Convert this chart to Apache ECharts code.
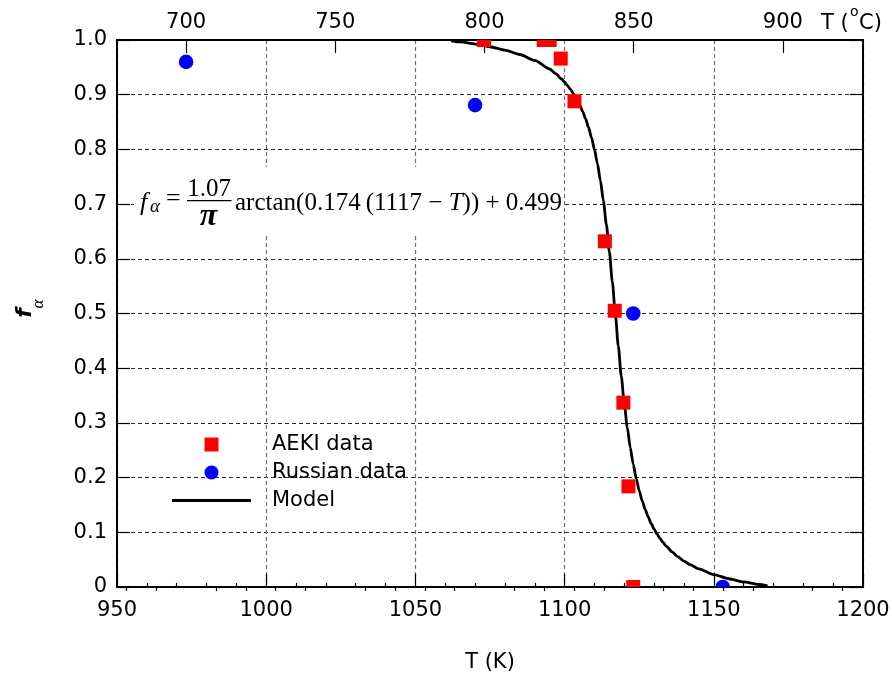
<!DOCTYPE html>
<html>
<head>
<meta charset="utf-8">
<title>Alpha phase fraction vs temperature</title>
<script src="https://cdn.jsdelivr.net/npm/echarts@6/dist/echarts.min.js"></script>
<style>
  html, body { margin: 0; padding: 0; background: #ffffff; }
  #chart { width: 892px; height: 677px; }
</style>
</head>
<body>
<div id="chart"></div>
<script>
// AEKI measurements: temperature (K) and alpha fraction
const aekiT = [1073, 1093, 1095, 1098.7, 1103.3, 1113.5, 1116.8, 1119.7, 1121.4, 1123.0];
const aekiF = [1.0, 1.0, 1.0, 0.966, 0.888, 0.632, 0.505, 0.337, 0.184, 0.0];

// Russian measurements
const russianT = [973.15, 1070, 1123, 1153];
const russianF = [0.96, 0.881, 0.50, 0.0];

// Model curve, tabulated
const modelT = [1062, 1065, 1070, 1075, 1080, 1085, 1090, 1095, 1097, 1099, 1100, 1101,
                1102, 1103, 1104, 1105, 1106, 1107, 1108, 1109, 1110, 1111, 1112, 1113,
                1114, 1115, 1116, 1117, 1118, 1119, 1120, 1121, 1122, 1123, 1124, 1125,
                1126, 1127, 1128, 1129, 1130, 1131, 1132, 1133, 1134, 1136, 1138, 1140,
                1142, 1145, 1150, 1155, 1160, 1165, 1168];
const modelF = [0.9986, 0.9965, 0.9926, 0.9877, 0.9815, 0.9735, 0.9626, 0.9470, 0.9387, 0.9287, 0.9230, 0.9165,
                0.9095, 0.9013, 0.8923, 0.8818, 0.8700, 0.8562, 0.8405, 0.8219, 0.7998, 0.7738, 0.7429, 0.7060,
                0.6628, 0.6130, 0.5577, 0.4990, 0.4403, 0.3850, 0.3352, 0.2920, 0.2551, 0.2242, 0.1982, 0.1762,
                0.1575, 0.1418, 0.1280, 0.1162, 0.1057, 0.0967, 0.0886, 0.0815, 0.0750, 0.0641, 0.0550, 0.0474,
                0.0410, 0.0330, 0.0227, 0.0151, 0.0093, 0.0046, 0.0022];

// Axis ranges and tick values
const kelvinRange = [950, 1200];
const celsiusMajor = [700, 750, 800, 850, 900];
const celsiusMinor = [680, 690, 710, 720, 730, 740, 760, 770, 780, 790, 810, 820, 830, 840, 860, 870, 880, 890, 910, 920];
const K0 = 273.15;

const zip = (xs, ys) => xs.map((x, i) => [x, ys[i]]);

const SANS = 'DejaVu Sans';
const SERIF = 'Liberation Serif';
const BLACK = '#000000';
const LABEL_SIZE = 21;

const chart = echarts.init(document.getElementById('chart'), null, { renderer: 'canvas' });

function squareMark(params, api) {
  const p = api.coord([api.value(0), api.value(1)]);
  return {
    type: 'rect',
    shape: { x: p[0] - 7, y: p[1] - 7, width: 14, height: 14 },
    style: { fill: '#ff0000' }
  };
}

function dotMark(params, api) {
  const p = api.coord([api.value(0), api.value(1)]);
  return {
    type: 'circle',
    shape: { cx: p[0], cy: p[1], r: 7.3 },
    style: { fill: '#0000ff' }
  };
}

const frameLine = { show: true, onZero: false, lineStyle: { color: BLACK, width: 2 } };
const majorTick = { show: true, inside: true, length: 13, lineStyle: { color: BLACK, width: 1.2 } };

const option = {
  animation: false,
  backgroundColor: '#ffffff',
  grid: { left: 117, right: 29, top: 40, bottom: 90, containLabel: false, outerBoundsMode: 'none' },
  legend: {
    orient: 'vertical',
    left: 172,
    top: 434,
    padding: 0,
    itemWidth: 79,
    itemHeight: 14,
    itemGap: 7,
    symbolKeepAspect: true,
    itemStyle: { borderWidth: 0 },
    textStyle: { fontFamily: SANS, fontSize: LABEL_SIZE, color: BLACK, lineHeight: 20, padding: [0, 0, 0, 16] },
    data: [
      { name: 'AEKI data', icon: 'path://M0,0H10V10H0Z' },
      { name: 'Russian data', icon: 'circle' },
      { name: 'Model', icon: 'path://M0,0H80V3H0Z' }
    ]
  },
  xAxis: [
    {
      type: 'value',
      position: 'bottom',
      min: kelvinRange[0],
      max: kelvinRange[1],
      interval: 50,
      axisLine: frameLine,
      axisTick: majorTick,
      minorTick: { show: true, splitNumber: 5, length: 4, lineStyle: { color: BLACK, width: 1.2 } },
      axisLabel: { fontFamily: SANS, fontSize: LABEL_SIZE, color: BLACK, margin: 13, formatter: v => String(v) },
      splitLine: { show: true, lineStyle: { color: '#707070', width: 1.2, type: [4, 3] } },
      name: 'T (K)',
      nameLocation: 'middle',
      nameGap: 65,
      nameTextStyle: { fontFamily: SANS, fontSize: LABEL_SIZE, color: BLACK }
    },
    {
      type: 'value',
      position: 'top',
      min: kelvinRange[0] - K0,
      max: kelvinRange[1] - K0,
      axisLine: frameLine,
      axisTick: Object.assign({}, majorTick, { customValues: celsiusMajor }),
      axisLabel: { customValues: celsiusMajor, fontFamily: SANS, fontSize: LABEL_SIZE, color: BLACK, margin: 7,
                   formatter: v => String(v) },
      splitLine: { show: false }
    },
    {
      type: 'value',
      position: 'top',
      min: kelvinRange[0] - K0,
      max: kelvinRange[1] - K0,
      axisLine: { show: false },
      axisTick: { show: true, inside: true, length: 4, customValues: celsiusMinor, lineStyle: { color: BLACK, width: 1.2 } },
      axisLabel: { show: false },
      splitLine: { show: false }
    }
  ],
  yAxis: [
    {
      type: 'value',
      position: 'left',
      min: 0,
      max: 1,
      interval: 0.1,
      axisLine: frameLine,
      axisTick: majorTick,
      axisLabel: {
        fontFamily: SANS, fontSize: LABEL_SIZE, color: BLACK, margin: 10,
        formatter: v => (v === 0 ? '0' : v.toFixed(1))
      },
      splitLine: { show: true, lineStyle: { color: '#2a2a2a', width: 1, type: [4, 3] } }
    },
    {
      type: 'value',
      position: 'right',
      min: 0,
      max: 1,
      interval: 0.1,
      axisLine: frameLine,
      axisTick: majorTick,
      axisLabel: { show: false },
      splitLine: { show: false }
    }
  ],
  series: [
    {
      name: 'Model',
      type: 'line',
      xAxisIndex: 0,
      yAxisIndex: 0,
      data: zip(modelT, modelF),
      symbol: 'none',
      smooth: 0.25,
      smoothMonotone: 'x',
      clip: true,
      itemStyle: { color: BLACK },
      lineStyle: { color: BLACK, width: 2.8 },
      z: 3
    },
    {
      name: 'AEKI data',
      type: 'custom',
      xAxisIndex: 0,
      yAxisIndex: 0,
      clip: true,
      itemStyle: { color: '#ff0000' },
      data: zip(aekiT, aekiF),
      renderItem: squareMark,
      encode: { x: 0, y: 1 },
      z: 4
    },
    {
      name: 'Russian data',
      type: 'custom',
      xAxisIndex: 0,
      yAxisIndex: 0,
      clip: true,
      itemStyle: { color: '#0000ff' },
      data: zip(russianT, russianF),
      renderItem: dotMark,
      encode: { x: 0, y: 1 },
      z: 4
    }
  ],
  graphic: [
    // top axis title  T (°C)
    { type: 'text', left: 821, top: 13, z: 10,
      style: { text: 'T (', fontFamily: SANS, fontSize: LABEL_SIZE, fill: BLACK } },
    { type: 'text', left: 850, top: 5, z: 10,
      style: { text: 'o', fontFamily: SANS, fontSize: 14, fill: BLACK } },
    { type: 'text', left: 859, top: 13, z: 10,
      style: { text: 'C)', fontFamily: SANS, fontSize: LABEL_SIZE, fill: BLACK } },

    // vertical axis title  f_alpha
    { type: 'text', x: 25, y: 313, rotation: Math.PI / 2, z: 10,
      style: { text: 'f', fontFamily: SANS, fontSize: 22, fontStyle: 'italic', fontWeight: 'bold',
               fill: BLACK, align: 'center', verticalAlign: 'middle' } },
    { type: 'text', x: 39, y: 304, rotation: Math.PI / 2, z: 10,
      style: { text: 'α', fontFamily: SERIF, fontSize: 17, fontStyle: 'italic',
               fill: BLACK, align: 'center', verticalAlign: 'middle' } },

    // model equation on a white panel
    { type: 'rect', shape: { x: 134, y: 167, width: 430, height: 69 }, z: 1,
      style: { fill: '#ffffff' } },
    { type: 'text', x: 140, y: 203.6, z: 5,
      style: { text: 'f', fontFamily: SERIF, fontSize: 26, fontStyle: 'italic', fill: BLACK,
               align: 'left', verticalAlign: 'middle' } },
    { type: 'text', x: 150, y: 207, z: 5,
      style: { text: 'α', fontFamily: SERIF, fontSize: 19, fontStyle: 'italic', fill: BLACK,
               align: 'left', verticalAlign: 'middle' } },
    { type: 'text', x: 166, y: 199, z: 5,
      style: { text: '=', fontFamily: SERIF, fontSize: 26, fill: BLACK,
               align: 'left', verticalAlign: 'middle' } },
    { type: 'text', x: 209, y: 189.5, z: 5,
      style: { text: '1.07', fontFamily: SERIF, fontSize: 25, fill: BLACK,
               align: 'center', verticalAlign: 'middle' } },
    { type: 'line', shape: { x1: 187, y1: 200.7, x2: 231.5, y2: 200.7 }, z: 5,
      style: { stroke: BLACK, lineWidth: 1.3 } },
    { type: 'text', x: 208.5, y: 217, z: 5,
      style: { text: 'π', fontFamily: SERIF, fontSize: 32, fontStyle: 'italic', fontWeight: 'bold', fill: BLACK,
               align: 'center', verticalAlign: 'middle' } },
    { type: 'text', x: 235, y: 203.6, z: 5,
      style: {
        text: '{a|arctan(0.174\u2009(1117 \u2212 }{i|T}{a|)) + 0.499}',
        align: 'left', verticalAlign: 'middle',
        rich: {
          a: { fontFamily: SERIF, fontSize: 25, fill: BLACK, lineHeight: 28 },
          i: { fontFamily: SERIF, fontSize: 25, fontStyle: 'italic', fill: BLACK, lineHeight: 28 }
        }
      } }
  ]
};

chart.setOption(option);
</script>
</body>
</html>
